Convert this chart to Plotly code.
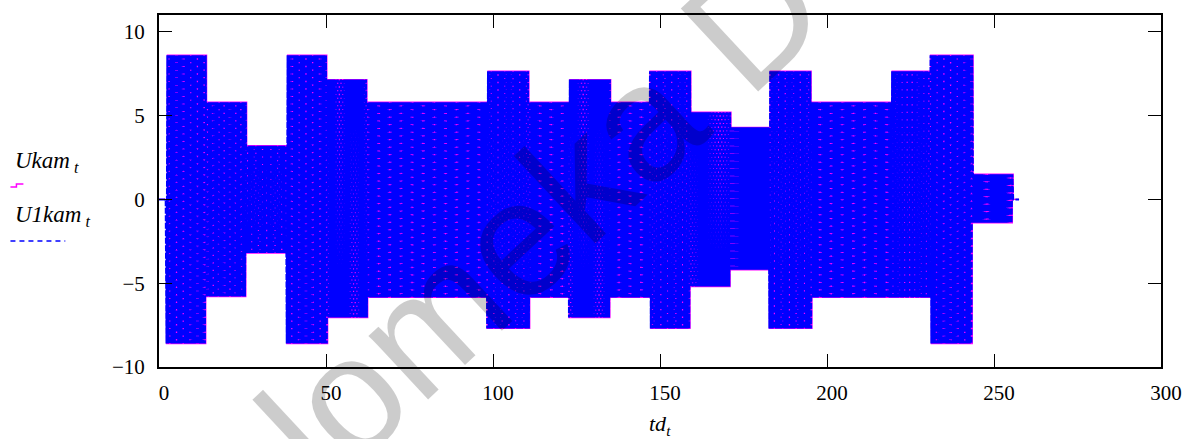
import numpy as np
import plotly.graph_objects as go

# Envelope of the camera voltage: segment boundaries (td) and peak levels
seg_edges = [2.1, 14.2, 26.2, 38.1, 50.3, 62.3, 74.3, 86.4, 98.2, 111.0, 122.7,
             135.2, 146.9, 159.1, 171.1, 182.7, 195.3, 207.3, 219.2, 230.9, 243.7, 255.7]
amp_pos = [8.6, 5.8, 3.2, 8.6, 7.15, 5.8, 5.8, 5.8, 7.65, 5.8, 7.15,
           5.8, 7.65, 5.2, 4.3, 7.65, 5.8, 5.8, 7.65, 8.6, 1.5]
amp_neg = [-8.6, -5.8, -3.2, -8.6, -7.05, -5.85, -5.85, -5.85, -7.7, -5.85, -7.05,
           -5.85, -7.7, -5.2, -4.2, -7.7, -5.85, -5.85, -5.85, -8.6, -1.4]
td_end = 257.6
dt = 0.25

x_ticks = [0, 50, 100, 150, 200, 250, 300]
y_ticks = [-10, -5, 0, 5, 10]
y_ticktext = ["\u221210", "\u22125", "0", "5", "10"]

# sampled carrier: alternates between the upper and lower level of its segment
td = np.arange(0.0, td_end + dt / 2, dt)
u = np.zeros_like(td)
for k in range(len(amp_pos)):
    m = (td >= seg_edges[k]) & (td < seg_edges[k + 1])
    idx = np.nonzero(m)[0]
    u[idx] = np.where(idx % 2 == 0, amp_pos[k], amp_neg[k])

ukam = u
u1kam = u.copy()

serif = "Liberation Serif, Times New Roman, serif"

fig = go.Figure()
fig.add_trace(go.Scatter(x=td, y=ukam, mode="lines", line_shape="hv",
                         line=dict(color="#ff00ff", width=1.3), name="Ukam"))
fig.add_trace(go.Scatter(x=td, y=u1kam, mode="lines",
                         line=dict(color="#0000ff", width=2, dash="6px,1.5px"),
                         name="U1kam"))

W, H = 1194, 439
ml, mr, mt, mb = 159, 30, 15, 72
pw, ph = W - ml - mr, H - mt - mb


def px(xp):
    return (xp - ml) / pw


def py(yp):
    return (H - mb - yp) / ph


annotations = [
    dict(text="<i>Ukam</i><sub><i> t</i></sub>", x=px(13), y=py(162), xref="paper", yref="paper",
         xanchor="left", yanchor="middle", showarrow=False,
         font=dict(family=serif, size=23, color="black")),
    dict(text="<i>U1kam</i><sub><i> t</i></sub>", x=px(13), y=py(216), xref="paper", yref="paper",
         xanchor="left", yanchor="middle", showarrow=False,
         font=dict(family=serif, size=23, color="black")),
    dict(text="<i>td</i><sub><i>t</i></sub>", x=0.5, y=py(425), xref="paper", yref="paper",
         xanchor="center", yanchor="middle", showarrow=False,
         font=dict(family=serif, size=22, color="black")),
    dict(text="Diplomeka D", x=px(452), y=py(300), xref="paper", yref="paper",
         xanchor="center", yanchor="middle", showarrow=False, textangle=-43,
         font=dict(family="Arial", size=165, color="rgba(0,0,0,0.2)")),
]

shapes = [
    dict(type="path", xref="paper", yref="paper",
         path=f"M {px(10)},{py(187)} L {px(16)},{py(187)} L {px(16)},{py(184)} L {px(23)},{py(184)}",
         line=dict(color="#ff00ff", width=1.5)),
    dict(type="line", xref="paper", yref="paper", x0=px(10), x1=px(65), y0=py(241), y1=py(241),
         line=dict(color="#0000ff", width=1.5, dash="5px,4px")),
]

fig.update_layout(
    width=W, height=H,
    margin=dict(l=ml, r=mr, t=mt, b=mb),
    paper_bgcolor="white", plot_bgcolor="white",
    showlegend=False,
    annotations=annotations,
    shapes=shapes,
    xaxis=dict(range=[0, 300], tickvals=x_ticks, ticks="inside", ticklen=13, tickwidth=1.3,
               tickcolor="black", showline=True, linewidth=2, linecolor="black",
               mirror="ticks", showgrid=False, zeroline=False,
               tickfont=dict(family=serif, size=21, color="black"),
               ticklabelstandoff=6, ticklabelshift=5),
    yaxis=dict(range=[-10, 11], tickvals=y_ticks, ticktext=y_ticktext, ticks="inside",
               ticklen=13, tickwidth=1.3, tickcolor="black", showline=True, linewidth=2,
               linecolor="black", mirror="ticks", showgrid=False, zeroline=False,
               tickfont=dict(family=serif, size=21, color="black"),
               ticklabelstandoff=8),
)

fig.write_html("out.html")
